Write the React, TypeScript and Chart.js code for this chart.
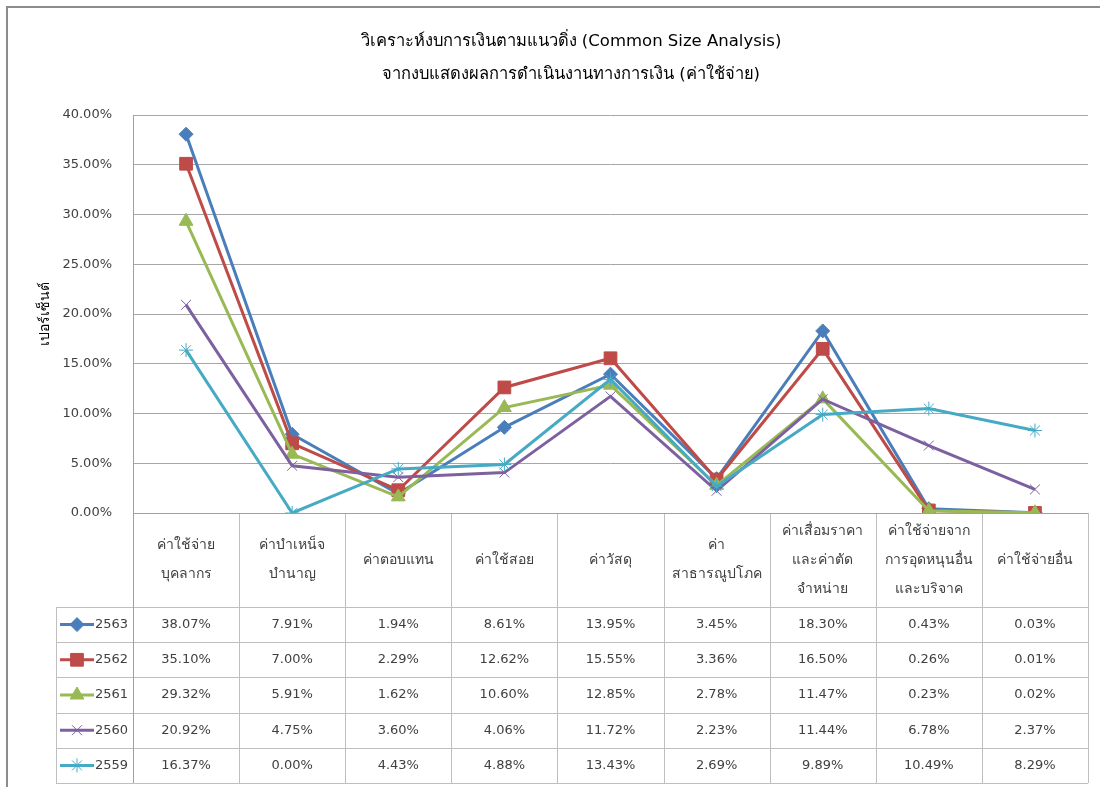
import React, { useEffect, useRef } from 'react';
import { Chart, registerables } from 'chart.js';
import { drawPoint } from 'chart.js/helpers';

Chart.register(...registerables);

const titleLines = [
  'วิเคราะห์งบการเงินตามแนวดิ่ง (Common Size Analysis)',
  'จากงบแสดงผลการดำเนินงานทางการเงิน (ค่าใช้จ่าย)',
];
const yAxisTitle = 'เปอร์เซ็นต์';

const categories: string[][] = [
  ['ค่าใช้จ่าย', 'บุคลากร'],
  ['ค่าบำเหน็จ', 'บำนาญ'],
  ['ค่าตอบแทน'],
  ['ค่าใช้สอย'],
  ['ค่าวัสดุ'],
  ['ค่า', 'สาธารณูปโภค'],
  ['ค่าเสื่อมราคา', 'และค่าตัด', 'จำหน่าย'],
  ['ค่าใช้จ่ายจาก', 'การอุดหนุนอื่น', 'และบริจาค'],
  ['ค่าใช้จ่ายอื่น'],
];

const seriesNames = ['2563', '2562', '2561', '2560', '2559'];
const values2563 = [38.07, 7.91, 1.94, 8.61, 13.95, 3.45, 18.3, 0.43, 0.03];
const values2562 = [35.1, 7.0, 2.29, 12.62, 15.55, 3.36, 16.5, 0.26, 0.01];
const values2561 = [29.32, 5.91, 1.62, 10.6, 12.85, 2.78, 11.47, 0.23, 0.02];
const values2560 = [20.92, 4.75, 3.6, 4.06, 11.72, 2.23, 11.44, 6.78, 2.37];
const values2559 = [16.37, 0.0, 4.43, 4.88, 13.43, 2.69, 9.89, 10.49, 8.29];
const seriesValues = [values2563, values2562, values2561, values2560, values2559];

const yMin = 0;
const yMax = 40;
const yStep = 5;

const colors = ['#4A7EBB', '#BE4B48', '#98B954', '#7D60A0', '#46AAC5'];
const markerStyles = ['rectRot', 'rect', 'triangle', 'crossRot', 'star'];
const markerRadius = [7, 9, 8, 7, 7];
const markerBorder = [1, 1, 1, 1, 1];

const FONT = '"DejaVu Sans", "Noto Sans", sans-serif';
const TEXT = '#404040';

const tablePlugin = {
  id: 'tablePlugin',
  afterDraw(chart: any) {
    const ctx = chart.ctx as CanvasRenderingContext2D;
    const area = chart.chartArea;
    const W = chart.width;
    const H = chart.height;
    ctx.save();

    // outer border
    ctx.strokeStyle = '#8c8c8c';
    ctx.lineWidth = 2;
    ctx.beginPath();
    ctx.moveTo(7, H + 5);
    ctx.lineTo(7, 7);
    ctx.lineTo(W + 5, 7);
    ctx.stroke();

    // title
    ctx.fillStyle = '#000';
    ctx.textAlign = 'center';
    ctx.textBaseline = 'middle';
    ctx.font = `16.5px ${FONT}`;
    ctx.fillText(titleLines[0], 571, 42);
    ctx.fillText(titleLines[1], 571, 75);

    // y axis title
    ctx.save();
    ctx.translate(45, (area.top + area.bottom) / 2);
    ctx.rotate(-Math.PI / 2);
    ctx.font = `14px ${FONT}`;
    ctx.fillStyle = '#000';
    ctx.fillText(yAxisTitle, 0, 0);
    ctx.restore();

    // table
    const n = categories.length;
    const colW = (area.right - area.left) / n;
    const headerTop = area.bottom;
    const headerBottom = 607;
    const rowH = 35.2;
    const tableBottom = headerBottom + rowH * seriesNames.length;
    const legendLeft = 56;

    ctx.strokeStyle = '#bfbfbf';
    ctx.lineWidth = 1;
    ctx.beginPath();
    for (let i = 1; i <= n; i++) {
      const x = Math.round(area.left + colW * i) + 0.5;
      ctx.moveTo(x, headerTop);
      ctx.lineTo(x, tableBottom);
    }
    for (let r = 0; r <= seriesNames.length; r++) {
      const y = Math.round(headerBottom + rowH * r) + 0.5;
      ctx.moveTo(legendLeft, y);
      ctx.lineTo(area.right, y);
    }
    ctx.moveTo(legendLeft + 0.5, headerBottom);
    ctx.lineTo(legendLeft + 0.5, tableBottom);
    ctx.stroke();

    // axis line extended
    ctx.strokeStyle = '#a0a0a0';
    ctx.beginPath();
    ctx.moveTo(Math.round(area.left) + 0.5, area.top);
    ctx.lineTo(Math.round(area.left) + 0.5, tableBottom);
    ctx.moveTo(area.left, Math.round(area.bottom) + 0.5);
    ctx.lineTo(area.right, Math.round(area.bottom) + 0.5);
    ctx.stroke();

    // header text
    ctx.fillStyle = TEXT;
    ctx.font = `14px ${FONT}`;
    const headerMid = (headerTop + headerBottom) / 2;
    const lh = 29;
    categories.forEach((lines, i) => {
      const cx = area.left + colW * (i + 0.5);
      const startY = headerMid - ((lines.length - 1) * lh) / 2;
      lines.forEach((t, j) => ctx.fillText(t, cx, startY + j * lh));
    });

    // rows
    ctx.font = `13px ${FONT}`;
    seriesNames.forEach((name, r) => {
      const cy = headerBottom + rowH * (r + 0.5);
      seriesValues[r].forEach((v, i) => {
        const cx = area.left + colW * (i + 0.5);
        ctx.fillStyle = TEXT;
        ctx.textAlign = 'center';
        ctx.fillText(v.toFixed(2) + '%', cx, cy);
      });
      // legend key
      ctx.strokeStyle = colors[r];
      ctx.lineWidth = 3;
      ctx.beginPath();
      ctx.moveTo(60, cy);
      ctx.lineTo(94, cy);
      ctx.stroke();
      ctx.fillStyle = colors[r];
      ctx.strokeStyle = colors[r];
      ctx.lineWidth = markerBorder[r];
      drawPoint(ctx, { pointStyle: markerStyles[r], radius: markerRadius[r], rotation: 0, borderWidth: markerBorder[r] } as any, 77, cy);
      ctx.fillStyle = TEXT;
      ctx.textAlign = 'left';
      ctx.font = `13px ${FONT}`;
      ctx.fillText(name, 95, cy);
    });

    ctx.restore();
  },
};

export default function App() {
  const ref = useRef<HTMLCanvasElement | null>(null);
  useEffect(() => {
    if (!ref.current) return;
    const chart = new Chart(ref.current, {
      type: 'line',
      data: {
        labels: categories.map((c) => c.join(' ')),
        datasets: seriesNames.map((name, i) => ({
          label: name,
          data: seriesValues[i],
          borderColor: colors[i],
          backgroundColor: colors[i],
          borderWidth: 3,
          pointStyle: markerStyles[i] as any,
          pointRadius: markerRadius[i],
          pointBorderWidth: markerBorder[i],
          pointBorderColor: colors[i],
          pointBackgroundColor: colors[i],
          tension: 0,
          order: seriesNames.length - i,
        })),
      },
      options: {
        responsive: false,
        animation: false,
        layout: { padding: { left: 0, right: 12, top: 115, bottom: 274 } },
        plugins: { legend: { display: false }, title: { display: false }, tooltip: { enabled: false } },
        scales: {
          x: { display: false, offset: true },
          y: {
            min: yMin,
            max: yMax,
            ticks: {
              stepSize: yStep,
              padding: 21,
              color: TEXT,
              font: { family: FONT, size: 13 },
              callback: (v: any) => Number(v).toFixed(2) + '%',
            },
            grid: { color: '#a6a6a6', drawTicks: false },
            border: { display: false },
            afterFit: (s: any) => {
              s.width = 133;
            },
          },
        },
      },
      plugins: [tablePlugin],
    });
    return () => chart.destroy();
  }, []);
  return (
    <div style={{ position: 'fixed', left: 0, top: 0, width: 1100, height: 787, background: '#fff' }}>
      <canvas ref={ref} width={1100} height={787} />
    </div>
  );
}
